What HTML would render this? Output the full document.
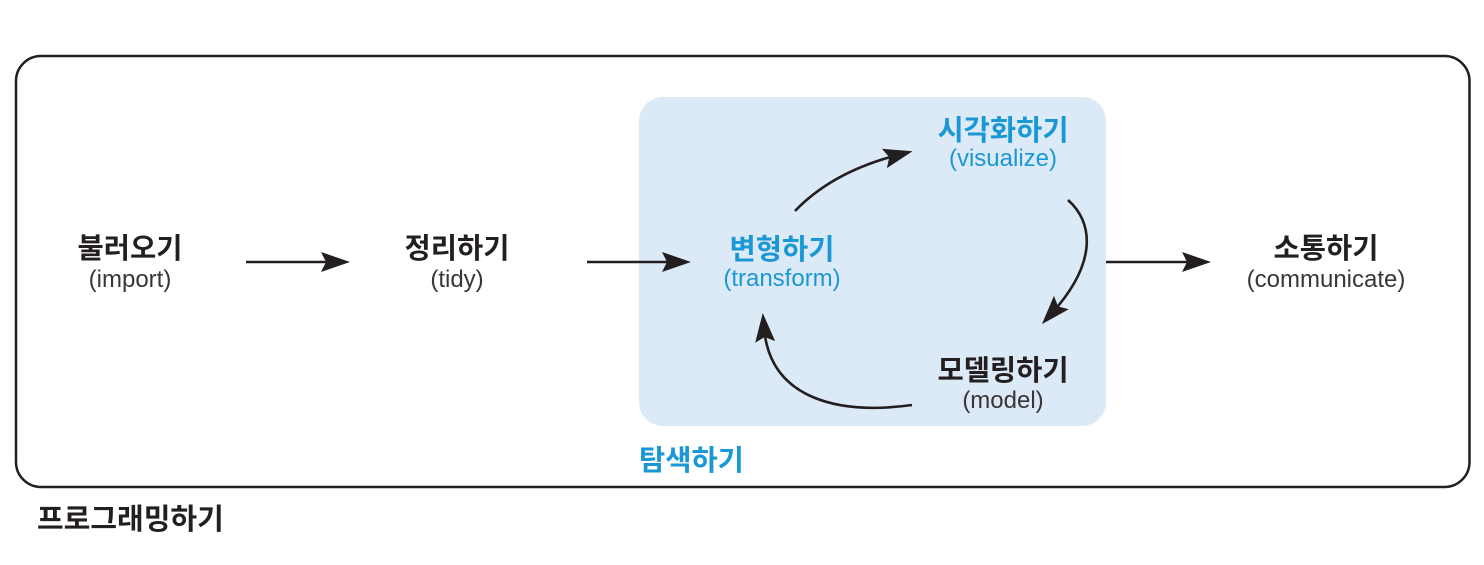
<!DOCTYPE html>
<html>
<head>
<meta charset="utf-8">
<style>
  html, body { margin: 0; padding: 0; background: #ffffff; }
  svg { display: block; }
  .ko { font-family: "Liberation Sans", "Noto Sans CJK KR", sans-serif; font-weight: 700; font-size: 28.5px; fill: #231f20; }
  .en { font-family: "Liberation Sans", "Noto Sans CJK KR", sans-serif; font-weight: 400; font-size: 24px; fill: #3a3536; }
  .blue { fill: #1a98d5; }
</style>
</head>
<body>
<svg width="1484" height="565" viewBox="0 0 1484 565" xmlns="http://www.w3.org/2000/svg">
  <defs>
    <marker id="ah" markerUnits="userSpaceOnUse" markerWidth="40" markerHeight="30" viewBox="-20 -15 40 30" refX="0" refY="0" orient="auto">
      <path d="M15,0 L-14,-10 L-9,0 L-14,10 Z" fill="#231f20"/>
    </marker>
  </defs>

  <!-- outer box -->
  <rect x="16" y="56" width="1453.5" height="431" rx="25" ry="25" fill="none" stroke="#231f20" stroke-width="2.5"/>

  <!-- explore box -->
  <rect x="639" y="97" width="467" height="329" rx="24" ry="24" fill="#dceaf7"/>

  <!-- straight arrows -->
  <line x1="246" y1="262" x2="335" y2="262" stroke="#231f20" stroke-width="2.6" marker-end="url(#ah)"/>
  <line x1="587" y1="262" x2="676" y2="262" stroke="#231f20" stroke-width="2.6" marker-end="url(#ah)"/>
  <line x1="1106" y1="262" x2="1196" y2="262" stroke="#231f20" stroke-width="2.6" marker-end="url(#ah)"/>

  <!-- curved arrows -->
  <path d="M795,211 C820,185 855,166 898,155" fill="none" stroke="#231f20" stroke-width="2.6" marker-end="url(#ah)"/>
  <path d="M1068,200 C1093,222 1098,262 1052,313" fill="none" stroke="#231f20" stroke-width="2.6" marker-end="url(#ah)"/>
  <path d="M912,405 C840,415 770,400 764,328" fill="none" stroke="#231f20" stroke-width="2.6" marker-end="url(#ah)"/>

  <!-- labels -->
  <text class="ko" x="130" y="258" text-anchor="middle">불러오기</text>
  <text class="en" x="130" y="287" text-anchor="middle">(import)</text>

  <text class="ko" x="457" y="258" text-anchor="middle">정리하기</text>
  <text class="en" x="457" y="287" text-anchor="middle">(tidy)</text>

  <text class="ko blue" x="782" y="259" text-anchor="middle">변형하기</text>
  <text class="en blue" x="782" y="286" text-anchor="middle">(transform)</text>

  <text class="ko blue" x="1003" y="140" text-anchor="middle">시각화하기</text>
  <text class="en blue" x="1003" y="166" text-anchor="middle">(visualize)</text>

  <text class="ko" x="1003" y="380" text-anchor="middle">모델링하기</text>
  <text class="en" x="1003" y="408" text-anchor="middle">(model)</text>

  <text class="ko" x="1326" y="258" text-anchor="middle">소통하기</text>
  <text class="en" x="1326" y="287" text-anchor="middle">(communicate)</text>

  <text class="ko blue" x="639" y="470">탐색하기</text>
  <text class="ko" x="37" y="529" style="font-size:29px">프로그래밍하기</text>
</svg>
</body>
</html>
